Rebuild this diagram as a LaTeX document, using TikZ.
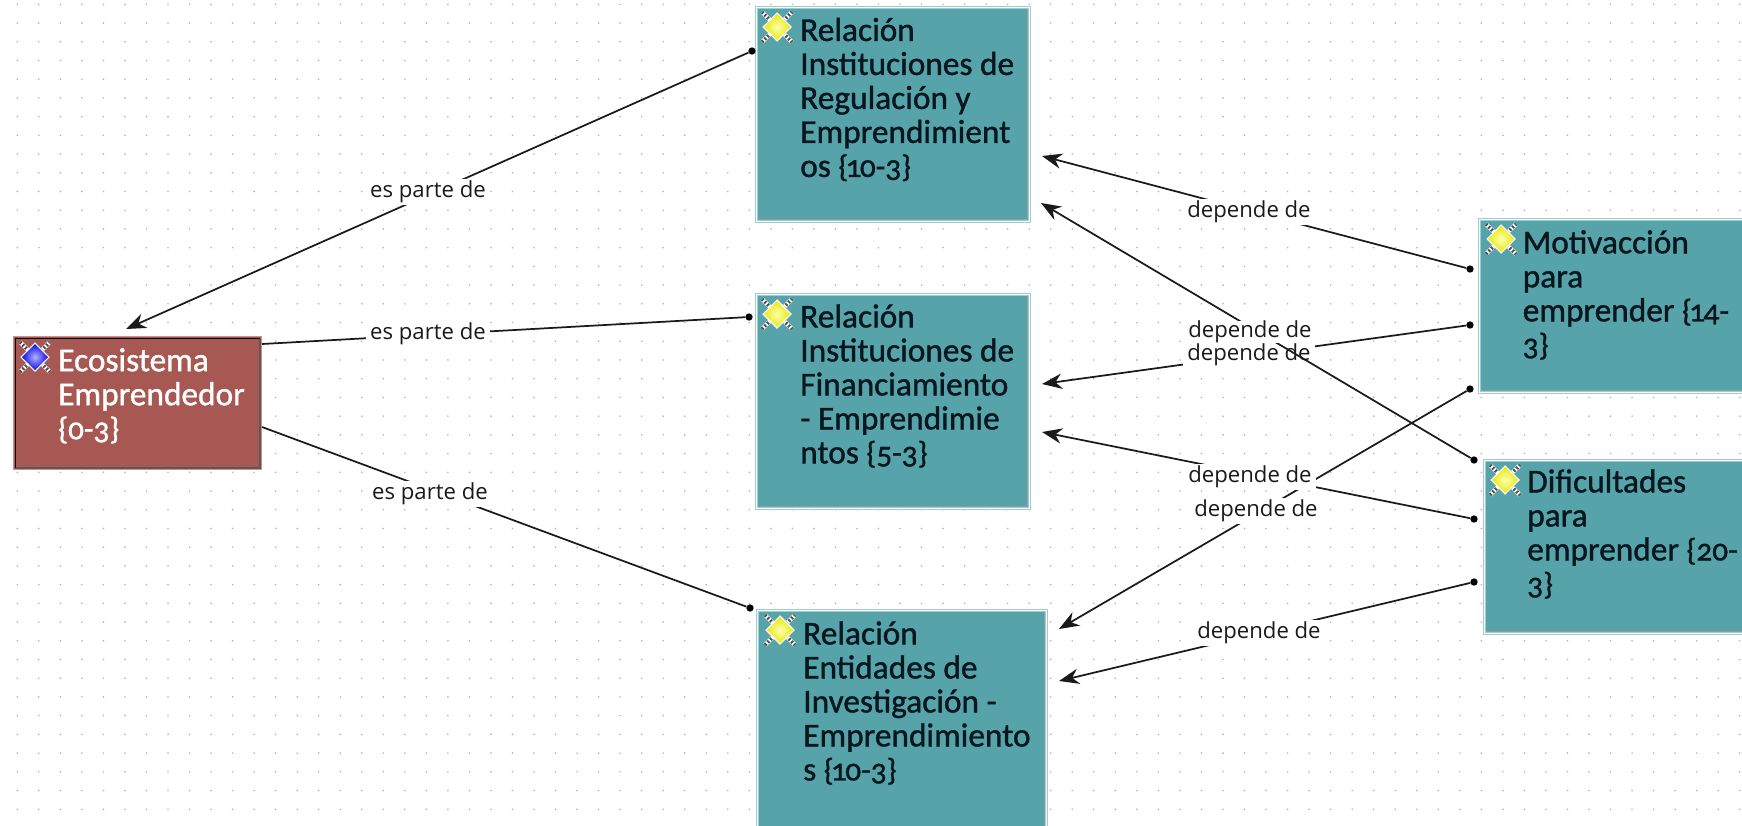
\documentclass[tikz,border=0pt]{standalone}
\usepackage{fontspec}
\setmainfont[Numbers=OldStyle,FakeBold=1.1]{Carlito}
\newfontfamily\lblfont{Open Sans}
\usetikzlibrary{arrows.meta,calc}
\newcommand{\numpart}[1]{{\fontsize{23.5}{25.5}\selectfont #1}}
\newcommand{\onenum}{\kern-2pt 1\kern-1.2pt\relax}
\definecolor{tealfill}{HTML}{56A3A9}
\definecolor{tealedge}{HTML}{9ACFD2}
\definecolor{redfill}{HTML}{A85853}
\definecolor{rededge}{HTML}{D08E8A}
\definecolor{inkline}{HTML}{1A1A1A}
\definecolor{inktext}{HTML}{08161F}
\definecolor{griddot}{HTML}{B4B4B4}
\tikzset{
  x=0.75pt,y=-0.75pt,
  boxsize/.style n args={2}{minimum width=#1*0.75pt,minimum height=#2*0.75pt,anchor=north west,inner sep=0pt},
  tealbox/.style={draw=tealedge,double=white,double distance=1.1pt,line width=0.7pt,fill=tealfill},
  redbox/.style={draw=rededge,line width=1pt,fill=redfill},
  boxtext/.style={anchor=north west,inner sep=0pt,align=left,font=\fontsize{25}{25.5}\selectfont,text=inktext},
  redtext/.style={boxtext,text=white},
  wire/.style={draw=inkline,line width=1.3pt},
  arrowwire/.style={wire,-{Stealth[length=15pt,width=11.5pt]}},
  pin/.style={circle,fill=black,inner sep=0pt,minimum size=5.5pt},
  lbl/.style={fill=white,inner xsep=3pt,inner ysep=1.5pt,font=\lblfont\fontsize{16.6}{18}\selectfont,text=inkline},
  icon/.pic={
    \draw[white,line width=3pt] (-15,-15) -- (15,15) (-15,15) -- (15,-15);
    \draw[black!70,line width=2.6pt,dash pattern=on 1.4pt off 1.4pt] (-15,-15) -- (15,15) (-15,15) -- (15,-15);
    \path[draw=white,line width=0.8pt,inner color=#1!30!white,outer color=#1!90!black] (0,-14) -- (14,0) -- (0,14) -- (-14,0) -- cycle;
  },
  icon/.default=yellow
}
\begin{document}
\begin{tikzpicture}
\useasboundingbox (0,0) rectangle (1742,825);
\fill[white] (0,0) rectangle (1742,825);
\clip (0,0) rectangle (1742,825);
% background dots
\foreach \i in {0,...,80}{
  \foreach \j in {0,...,44}{
    \fill[griddot] ({17.3+21.53*\i},{4.3+18.72*\j}) circle (0.9);
  }
}
% boxes
\node[boxsize={248}{133},redbox] (eco) at (13,336) {};
\node[boxsize={273}{214},tealbox] (r1) at (756,7) {};
\node[boxsize={273}{214},tealbox] (r2) at (756,294) {};
\node[boxsize={289}{220},tealbox] (r3) at (757,610) {};
\node[boxsize={270}{173},tealbox] (mo) at (1479,219) {};
\node[boxsize={270}{173},tealbox] (di) at (1484,460) {};
\foreach \n in {r1,r2,r3,mo,di}{
  \draw[gray!80,line width=1pt] ([shift={(2,-2.5)}]\n.south west) -- ([shift={(-2.5,-2.5)}]\n.south east) -- ([shift={(-2.5,2)}]\n.north east);
}
\draw[black,line width=1.3pt] ([shift={(2.5,-2.5)}]eco.south west) -- ([shift={(2.5,2.5)}]eco.north west) -- ([shift={(-2.5,2.5)}]eco.north east);
\draw[gray!70!black,line width=1.3pt] ([shift={(2.5,-2.5)}]eco.south west) -- ([shift={(-2.5,-2.5)}]eco.south east) -- ([shift={(-2.5,2.5)}]eco.north east);
% icons
\pic at ($(eco.north west)+(22,21)$) {icon=blue};
\pic at ($(r1.north west)+(21,20)$) {icon=yellow};
\pic at ($(r2.north west)+(21,20)$) {icon=yellow};
\pic at ($(r3.north west)+(23,20)$) {icon=yellow};
\pic at ($(mo.north west)+(22,20)$) {icon=yellow};
\pic at ($(di.north west)+(21,20)$) {icon=yellow};
% box texts
\node[redtext] (ecot) at ($(eco.north west)+(45,12)$) {Ecosistema\\Emprendedor\\\numpart{\{0-3\}}};
\node[boxtext] (r1t) at ($(r1.north west)+(44,10.5)$) {Relación\\Instituciones de\\Regulación y\\Emprendimient\\os \numpart{\{\onenum 0-3\}}};
\node[boxtext] (r2t) at ($(r2.north west)+(44,10)$) {Relación\\Instituciones de\\Financiamiento\\- Emprendimie\\ntos \numpart{\{5-3\}}};
\node[boxtext] (r3t) at ($(r3.north west)+(46,11)$) {Relación\\Entidades de\\Investigación -\\Emprendimiento\\s \numpart{\{\onenum 0-3\}}};
\node[boxtext] (mot) at ($(mo.north west)+(43.5,11)$) {Motivacción\\para\\emprender \numpart{\{\onenum 4-}\\\numpart{3\}}};
\node[boxtext] (dit) at ($(di.north west)+(43,9)$) {Dificultades\\para\\emprender \numpart{\{20-}\\\numpart{3\}}};
% connector ends
\node[pin] (p1) at (752,51) {};
\node[pin] (p2) at (749,317) {};
\node[pin] (p3) at (750,608) {};
\node[pin] (p4) at (1470,269) {};
\node[pin] (p5) at (1470,325) {};
\node[pin] (p6) at (1470,389) {};
\node[pin] (p7) at (1474,460) {};
\node[pin] (p8) at (1474,519) {};
\node[pin] (p9) at (1474,582) {};
\coordinate (t1) at (126,329);
\coordinate (s2) at (262,344);
\coordinate (s3) at (262,427);
\coordinate (t4) at (1042,156);
\coordinate (t5) at (1042,384);
\coordinate (t6) at (1059,629);
\coordinate (t7) at (1041,203);
\coordinate (t8) at (1042,432);
\coordinate (t9) at (1059,681);
% connectors
\draw[arrowwire] (p1) -- (t1);
\node[lbl] (l1) at (428,192) {es parte de};
\draw[wire] (s2) -- (p2);
\node[lbl] (l2) at (428,334) {es parte de};
\draw[wire] (s3) -- (p3);
\node[lbl] (l3) at (430,494) {es parte de};
\draw[arrowwire] (p4) -- (t4);
\node[lbl] (l4) at (1249,212) {depende de};
\draw[arrowwire] (p5) -- (t5);
\node[lbl] (l5) at (1249,355) {depende de};
\draw[arrowwire] (p7) -- (t7);
\node[lbl,inner ysep=0pt] (l7) at (1250,332) {depende de};
\draw[arrowwire] (p6) -- (t6);
\node[lbl] (l6) at (1256,511) {depende de};
\draw[arrowwire] (p8) -- (t8);
\node[lbl] (l8) at (1250,477) {depende de};
\draw[arrowwire] (p9) -- (t9);
\node[lbl] (l9) at (1259,633) {depende de};
\end{tikzpicture}
\end{document}
